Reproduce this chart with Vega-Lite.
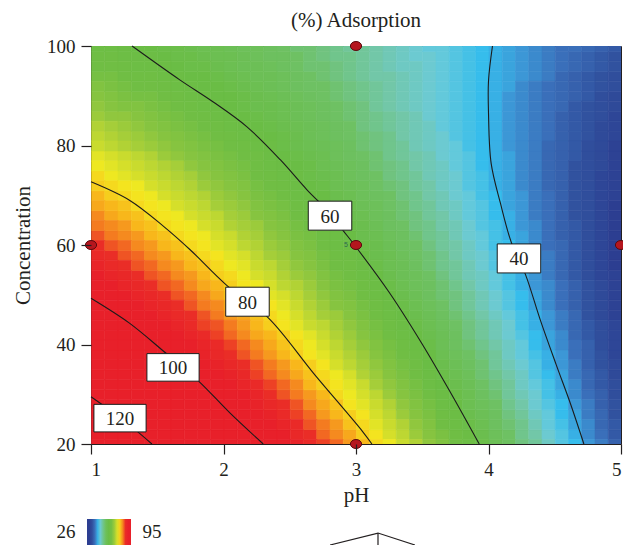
{
  "$schema": "https://vega.github.io/schema/vega-lite/v6.json",
  "autosize": {"type": "none"},
  "width": 530,
  "height": 398,
  "padding": {"left": 91, "top": 46, "right": 2, "bottom": 101},
  "background": "white",
  "title": {"text": "(%) Adsorption", "font": "Liberation Serif", "fontSize": 21, "fontWeight": "normal", "color": "#231F20", "offset": 6},
  "config": {
    "view": {"stroke": "#231F20", "strokeWidth": 1},
    "axis": {"labelFont": "Liberation Serif", "labelFontSize": 19, "labelColor": "#231F20", "titleFont": "Liberation Serif", "titleFontSize": 21, "titleFontWeight": "normal", "titleColor": "#231F20", "tickColor": "#231F20", "tickSize": 10, "tickWidth": 1.2, "domain": false, "grid": false}
  },
  "datasets": {
    "grid": [
      {"p":1.05,"c":22,"v":126},{"p":1.15,"c":22,"v":124},{"p":1.25,"c":22,"v":122},{"p":1.35,"c":22,"v":120},{"p":1.45,"c":22,"v":118},{"p":1.55,"c":22,"v":115},{"p":1.65,"c":22,"v":113},{"p":1.75,"c":22,"v":111},{"p":1.85,"c":22,"v":108},{"p":1.95,"c":22,"v":106},{"p":2.05,"c":22,"v":104},{"p":2.15,"c":22,"v":102},{"p":2.25,"c":22,"v":99},{"p":2.35,"c":22,"v":97},{"p":2.45,"c":22,"v":95},{"p":2.55,"c":22,"v":92},{"p":2.65,"c":22,"v":90},{"p":2.75,"c":22,"v":87},{"p":2.85,"c":22,"v":85},{"p":2.95,"c":22,"v":83},{"p":3.05,"c":22,"v":80},{"p":3.15,"c":22,"v":78},{"p":3.25,"c":22,"v":75},{"p":3.35,"c":22,"v":73},{"p":3.45,"c":22,"v":70},{"p":3.55,"c":22,"v":68},{"p":3.65,"c":22,"v":66},{"p":3.75,"c":22,"v":63},{"p":3.85,"c":22,"v":61},{"p":3.95,"c":22,"v":58},{"p":4.05,"c":22,"v":55},{"p":4.15,"c":22,"v":53},{"p":4.25,"c":22,"v":50},{"p":4.35,"c":22,"v":48},{"p":4.45,"c":22,"v":45},{"p":4.55,"c":22,"v":43},{"p":4.65,"c":22,"v":40},{"p":4.75,"c":22,"v":37},{"p":4.85,"c":22,"v":35},{"p":4.95,"c":22,"v":32},
      {"p":1.05,"c":26,"v":122},{"p":1.15,"c":26,"v":120},{"p":1.25,"c":26,"v":118},{"p":1.35,"c":26,"v":116},{"p":1.45,"c":26,"v":113},{"p":1.55,"c":26,"v":111},{"p":1.65,"c":26,"v":109},{"p":1.75,"c":26,"v":107},{"p":1.85,"c":26,"v":105},{"p":1.95,"c":26,"v":103},{"p":2.05,"c":26,"v":100},{"p":2.15,"c":26,"v":98},{"p":2.25,"c":26,"v":96},{"p":2.35,"c":26,"v":94},{"p":2.45,"c":26,"v":91},{"p":2.55,"c":26,"v":89},{"p":2.65,"c":26,"v":87},{"p":2.75,"c":26,"v":84},{"p":2.85,"c":26,"v":82},{"p":2.95,"c":26,"v":80},{"p":3.05,"c":26,"v":78},{"p":3.15,"c":26,"v":75},{"p":3.25,"c":26,"v":73},{"p":3.35,"c":26,"v":70},{"p":3.45,"c":26,"v":68},{"p":3.55,"c":26,"v":66},{"p":3.65,"c":26,"v":63},{"p":3.75,"c":26,"v":61},{"p":3.85,"c":26,"v":58},{"p":3.95,"c":26,"v":56},{"p":4.05,"c":26,"v":54},{"p":4.15,"c":26,"v":51},{"p":4.25,"c":26,"v":49},{"p":4.35,"c":26,"v":46},{"p":4.45,"c":26,"v":44},{"p":4.55,"c":26,"v":41},{"p":4.65,"c":26,"v":39},{"p":4.75,"c":26,"v":36},{"p":4.85,"c":26,"v":34},{"p":4.95,"c":26,"v":31},
      {"p":1.05,"c":30,"v":118},{"p":1.15,"c":30,"v":116},{"p":1.25,"c":30,"v":114},{"p":1.35,"c":30,"v":112},{"p":1.45,"c":30,"v":110},{"p":1.55,"c":30,"v":107},{"p":1.65,"c":30,"v":105},{"p":1.75,"c":30,"v":103},{"p":1.85,"c":30,"v":101},{"p":1.95,"c":30,"v":99},{"p":2.05,"c":30,"v":97},{"p":2.15,"c":30,"v":95},{"p":2.25,"c":30,"v":93},{"p":2.35,"c":30,"v":90},{"p":2.45,"c":30,"v":88},{"p":2.55,"c":30,"v":86},{"p":2.65,"c":30,"v":84},{"p":2.75,"c":30,"v":82},{"p":2.85,"c":30,"v":79},{"p":2.95,"c":30,"v":77},{"p":3.05,"c":30,"v":75},{"p":3.15,"c":30,"v":73},{"p":3.25,"c":30,"v":70},{"p":3.35,"c":30,"v":68},{"p":3.45,"c":30,"v":66},{"p":3.55,"c":30,"v":64},{"p":3.65,"c":30,"v":61},{"p":3.75,"c":30,"v":59},{"p":3.85,"c":30,"v":57},{"p":3.95,"c":30,"v":54},{"p":4.05,"c":30,"v":52},{"p":4.15,"c":30,"v":49},{"p":4.25,"c":30,"v":47},{"p":4.35,"c":30,"v":45},{"p":4.45,"c":30,"v":42},{"p":4.55,"c":30,"v":40},{"p":4.65,"c":30,"v":37},{"p":4.75,"c":30,"v":35},{"p":4.85,"c":30,"v":33},{"p":4.95,"c":30,"v":30},
      {"p":1.05,"c":34,"v":114},{"p":1.15,"c":34,"v":112},{"p":1.25,"c":34,"v":110},{"p":1.35,"c":34,"v":108},{"p":1.45,"c":34,"v":106},{"p":1.55,"c":34,"v":104},{"p":1.65,"c":34,"v":102},{"p":1.75,"c":34,"v":100},{"p":1.85,"c":34,"v":98},{"p":1.95,"c":34,"v":96},{"p":2.05,"c":34,"v":94},{"p":2.15,"c":34,"v":92},{"p":2.25,"c":34,"v":89},{"p":2.35,"c":34,"v":87},{"p":2.45,"c":34,"v":85},{"p":2.55,"c":34,"v":83},{"p":2.65,"c":34,"v":81},{"p":2.75,"c":34,"v":79},{"p":2.85,"c":34,"v":77},{"p":2.95,"c":34,"v":75},{"p":3.05,"c":34,"v":72},{"p":3.15,"c":34,"v":70},{"p":3.25,"c":34,"v":68},{"p":3.35,"c":34,"v":66},{"p":3.45,"c":34,"v":64},{"p":3.55,"c":34,"v":61},{"p":3.65,"c":34,"v":59},{"p":3.75,"c":34,"v":57},{"p":3.85,"c":34,"v":55},{"p":3.95,"c":34,"v":52},{"p":4.05,"c":34,"v":50},{"p":4.15,"c":34,"v":48},{"p":4.25,"c":34,"v":46},{"p":4.35,"c":34,"v":43},{"p":4.45,"c":34,"v":41},{"p":4.55,"c":34,"v":39},{"p":4.65,"c":34,"v":36},{"p":4.75,"c":34,"v":34},{"p":4.85,"c":34,"v":32},{"p":4.95,"c":34,"v":29},
      {"p":1.05,"c":38,"v":110},{"p":1.15,"c":38,"v":108},{"p":1.25,"c":38,"v":106},{"p":1.35,"c":38,"v":104},{"p":1.45,"c":38,"v":102},{"p":1.55,"c":38,"v":100},{"p":1.65,"c":38,"v":98},{"p":1.75,"c":38,"v":96},{"p":1.85,"c":38,"v":94},{"p":1.95,"c":38,"v":92},{"p":2.05,"c":38,"v":90},{"p":2.15,"c":38,"v":88},{"p":2.25,"c":38,"v":86},{"p":2.35,"c":38,"v":84},{"p":2.45,"c":38,"v":82},{"p":2.55,"c":38,"v":80},{"p":2.65,"c":38,"v":78},{"p":2.75,"c":38,"v":76},{"p":2.85,"c":38,"v":74},{"p":2.95,"c":38,"v":72},{"p":3.05,"c":38,"v":70},{"p":3.15,"c":38,"v":68},{"p":3.25,"c":38,"v":66},{"p":3.35,"c":38,"v":64},{"p":3.45,"c":38,"v":62},{"p":3.55,"c":38,"v":60},{"p":3.65,"c":38,"v":57},{"p":3.75,"c":38,"v":55},{"p":3.85,"c":38,"v":53},{"p":3.95,"c":38,"v":51},{"p":4.05,"c":38,"v":49},{"p":4.15,"c":38,"v":46},{"p":4.25,"c":38,"v":44},{"p":4.35,"c":38,"v":42},{"p":4.45,"c":38,"v":40},{"p":4.55,"c":38,"v":38},{"p":4.65,"c":38,"v":35},{"p":4.75,"c":38,"v":33},{"p":4.85,"c":38,"v":31},{"p":4.95,"c":38,"v":28},
      {"p":1.05,"c":42,"v":106},{"p":1.15,"c":42,"v":104},{"p":1.25,"c":42,"v":102},{"p":1.35,"c":42,"v":100},{"p":1.45,"c":42,"v":98},{"p":1.55,"c":42,"v":97},{"p":1.65,"c":42,"v":95},{"p":1.75,"c":42,"v":93},{"p":1.85,"c":42,"v":91},{"p":1.95,"c":42,"v":89},{"p":2.05,"c":42,"v":87},{"p":2.15,"c":42,"v":85},{"p":2.25,"c":42,"v":83},{"p":2.35,"c":42,"v":82},{"p":2.45,"c":42,"v":80},{"p":2.55,"c":42,"v":78},{"p":2.65,"c":42,"v":76},{"p":2.75,"c":42,"v":74},{"p":2.85,"c":42,"v":72},{"p":2.95,"c":42,"v":70},{"p":3.05,"c":42,"v":68},{"p":3.15,"c":42,"v":66},{"p":3.25,"c":42,"v":64},{"p":3.35,"c":42,"v":62},{"p":3.45,"c":42,"v":60},{"p":3.55,"c":42,"v":58},{"p":3.65,"c":42,"v":56},{"p":3.75,"c":42,"v":54},{"p":3.85,"c":42,"v":51},{"p":3.95,"c":42,"v":49},{"p":4.05,"c":42,"v":47},{"p":4.15,"c":42,"v":45},{"p":4.25,"c":42,"v":43},{"p":4.35,"c":42,"v":41},{"p":4.45,"c":42,"v":39},{"p":4.55,"c":42,"v":37},{"p":4.65,"c":42,"v":34},{"p":4.75,"c":42,"v":32},{"p":4.85,"c":42,"v":30},{"p":4.95,"c":42,"v":28},
      {"p":1.05,"c":46,"v":102},{"p":1.15,"c":46,"v":100},{"p":1.25,"c":46,"v":98},{"p":1.35,"c":46,"v":97},{"p":1.45,"c":46,"v":95},{"p":1.55,"c":46,"v":93},{"p":1.65,"c":46,"v":91},{"p":1.75,"c":46,"v":90},{"p":1.85,"c":46,"v":88},{"p":1.95,"c":46,"v":86},{"p":2.05,"c":46,"v":84},{"p":2.15,"c":46,"v":83},{"p":2.25,"c":46,"v":81},{"p":2.35,"c":46,"v":79},{"p":2.45,"c":46,"v":77},{"p":2.55,"c":46,"v":75},{"p":2.65,"c":46,"v":73},{"p":2.75,"c":46,"v":71},{"p":2.85,"c":46,"v":70},{"p":2.95,"c":46,"v":68},{"p":3.05,"c":46,"v":66},{"p":3.15,"c":46,"v":64},{"p":3.25,"c":46,"v":62},{"p":3.35,"c":46,"v":60},{"p":3.45,"c":46,"v":58},{"p":3.55,"c":46,"v":56},{"p":3.65,"c":46,"v":54},{"p":3.75,"c":46,"v":52},{"p":3.85,"c":46,"v":50},{"p":3.95,"c":46,"v":48},{"p":4.05,"c":46,"v":46},{"p":4.15,"c":46,"v":44},{"p":4.25,"c":46,"v":42},{"p":4.35,"c":46,"v":40},{"p":4.45,"c":46,"v":38},{"p":4.55,"c":46,"v":36},{"p":4.65,"c":46,"v":34},{"p":4.75,"c":46,"v":31},{"p":4.85,"c":46,"v":29},{"p":4.95,"c":46,"v":27},
      {"p":1.05,"c":50,"v":98},{"p":1.15,"c":50,"v":97},{"p":1.25,"c":50,"v":95},{"p":1.35,"c":50,"v":93},{"p":1.45,"c":50,"v":92},{"p":1.55,"c":50,"v":90},{"p":1.65,"c":50,"v":88},{"p":1.75,"c":50,"v":87},{"p":1.85,"c":50,"v":85},{"p":1.95,"c":50,"v":83},{"p":2.05,"c":50,"v":81},{"p":2.15,"c":50,"v":80},{"p":2.25,"c":50,"v":78},{"p":2.35,"c":50,"v":76},{"p":2.45,"c":50,"v":75},{"p":2.55,"c":50,"v":73},{"p":2.65,"c":50,"v":71},{"p":2.75,"c":50,"v":69},{"p":2.85,"c":50,"v":67},{"p":2.95,"c":50,"v":66},{"p":3.05,"c":50,"v":64},{"p":3.15,"c":50,"v":62},{"p":3.25,"c":50,"v":60},{"p":3.35,"c":50,"v":58},{"p":3.45,"c":50,"v":56},{"p":3.55,"c":50,"v":54},{"p":3.65,"c":50,"v":52},{"p":3.75,"c":50,"v":51},{"p":3.85,"c":50,"v":49},{"p":3.95,"c":50,"v":47},{"p":4.05,"c":50,"v":45},{"p":4.15,"c":50,"v":43},{"p":4.25,"c":50,"v":41},{"p":4.35,"c":50,"v":39},{"p":4.45,"c":50,"v":37},{"p":4.55,"c":50,"v":35},{"p":4.65,"c":50,"v":33},{"p":4.75,"c":50,"v":31},{"p":4.85,"c":50,"v":29},{"p":4.95,"c":50,"v":27},
      {"p":1.05,"c":54,"v":95},{"p":1.15,"c":54,"v":93},{"p":1.25,"c":54,"v":92},{"p":1.35,"c":54,"v":90},{"p":1.45,"c":54,"v":88},{"p":1.55,"c":54,"v":87},{"p":1.65,"c":54,"v":85},{"p":1.75,"c":54,"v":84},{"p":1.85,"c":54,"v":82},{"p":1.95,"c":54,"v":80},{"p":2.05,"c":54,"v":79},{"p":2.15,"c":54,"v":77},{"p":2.25,"c":54,"v":75},{"p":2.35,"c":54,"v":74},{"p":2.45,"c":54,"v":72},{"p":2.55,"c":54,"v":70},{"p":2.65,"c":54,"v":69},{"p":2.75,"c":54,"v":67},{"p":2.85,"c":54,"v":65},{"p":2.95,"c":54,"v":64},{"p":3.05,"c":54,"v":62},{"p":3.15,"c":54,"v":60},{"p":3.25,"c":54,"v":58},{"p":3.35,"c":54,"v":56},{"p":3.45,"c":54,"v":55},{"p":3.55,"c":54,"v":53},{"p":3.65,"c":54,"v":51},{"p":3.75,"c":54,"v":49},{"p":3.85,"c":54,"v":47},{"p":3.95,"c":54,"v":46},{"p":4.05,"c":54,"v":44},{"p":4.15,"c":54,"v":42},{"p":4.25,"c":54,"v":40},{"p":4.35,"c":54,"v":38},{"p":4.45,"c":54,"v":36},{"p":4.55,"c":54,"v":34},{"p":4.65,"c":54,"v":32},{"p":4.75,"c":54,"v":30},{"p":4.85,"c":54,"v":28},{"p":4.95,"c":54,"v":27},
      {"p":1.05,"c":58,"v":91},{"p":1.15,"c":58,"v":90},{"p":1.25,"c":58,"v":88},{"p":1.35,"c":58,"v":87},{"p":1.45,"c":58,"v":85},{"p":1.55,"c":58,"v":84},{"p":1.65,"c":58,"v":82},{"p":1.75,"c":58,"v":81},{"p":1.85,"c":58,"v":79},{"p":1.95,"c":58,"v":78},{"p":2.05,"c":58,"v":76},{"p":2.15,"c":58,"v":75},{"p":2.25,"c":58,"v":73},{"p":2.35,"c":58,"v":71},{"p":2.45,"c":58,"v":70},{"p":2.55,"c":58,"v":68},{"p":2.65,"c":58,"v":67},{"p":2.75,"c":58,"v":65},{"p":2.85,"c":58,"v":63},{"p":2.95,"c":58,"v":62},{"p":3.05,"c":58,"v":60},{"p":3.15,"c":58,"v":58},{"p":3.25,"c":58,"v":57},{"p":3.35,"c":58,"v":55},{"p":3.45,"c":58,"v":53},{"p":3.55,"c":58,"v":52},{"p":3.65,"c":58,"v":50},{"p":3.75,"c":58,"v":48},{"p":3.85,"c":58,"v":46},{"p":3.95,"c":58,"v":45},{"p":4.05,"c":58,"v":43},{"p":4.15,"c":58,"v":41},{"p":4.25,"c":58,"v":39},{"p":4.35,"c":58,"v":37},{"p":4.45,"c":58,"v":36},{"p":4.55,"c":58,"v":34},{"p":4.65,"c":58,"v":32},{"p":4.75,"c":58,"v":30},{"p":4.85,"c":58,"v":28},{"p":4.95,"c":58,"v":26},
      {"p":1.05,"c":62,"v":88},{"p":1.15,"c":62,"v":86},{"p":1.25,"c":62,"v":85},{"p":1.35,"c":62,"v":84},{"p":1.45,"c":62,"v":82},{"p":1.55,"c":62,"v":81},{"p":1.65,"c":62,"v":79},{"p":1.75,"c":62,"v":78},{"p":1.85,"c":62,"v":77},{"p":1.95,"c":62,"v":75},{"p":2.05,"c":62,"v":74},{"p":2.15,"c":62,"v":72},{"p":2.25,"c":62,"v":71},{"p":2.35,"c":62,"v":69},{"p":2.45,"c":62,"v":68},{"p":2.55,"c":62,"v":66},{"p":2.65,"c":62,"v":65},{"p":2.75,"c":62,"v":63},{"p":2.85,"c":62,"v":62},{"p":2.95,"c":62,"v":60},{"p":3.05,"c":62,"v":58},{"p":3.15,"c":62,"v":57},{"p":3.25,"c":62,"v":55},{"p":3.35,"c":62,"v":54},{"p":3.45,"c":62,"v":52},{"p":3.55,"c":62,"v":50},{"p":3.65,"c":62,"v":49},{"p":3.75,"c":62,"v":47},{"p":3.85,"c":62,"v":45},{"p":3.95,"c":62,"v":44},{"p":4.05,"c":62,"v":42},{"p":4.15,"c":62,"v":40},{"p":4.25,"c":62,"v":39},{"p":4.35,"c":62,"v":37},{"p":4.45,"c":62,"v":35},{"p":4.55,"c":62,"v":33},{"p":4.65,"c":62,"v":32},{"p":4.75,"c":62,"v":30},{"p":4.85,"c":62,"v":28},{"p":4.95,"c":62,"v":26},
      {"p":1.05,"c":66,"v":85},{"p":1.15,"c":66,"v":83},{"p":1.25,"c":66,"v":82},{"p":1.35,"c":66,"v":81},{"p":1.45,"c":66,"v":79},{"p":1.55,"c":66,"v":78},{"p":1.65,"c":66,"v":77},{"p":1.75,"c":66,"v":75},{"p":1.85,"c":66,"v":74},{"p":1.95,"c":66,"v":73},{"p":2.05,"c":66,"v":71},{"p":2.15,"c":66,"v":70},{"p":2.25,"c":66,"v":68},{"p":2.35,"c":66,"v":67},{"p":2.45,"c":66,"v":66},{"p":2.55,"c":66,"v":64},{"p":2.65,"c":66,"v":63},{"p":2.75,"c":66,"v":61},{"p":2.85,"c":66,"v":60},{"p":2.95,"c":66,"v":58},{"p":3.05,"c":66,"v":57},{"p":3.15,"c":66,"v":55},{"p":3.25,"c":66,"v":54},{"p":3.35,"c":66,"v":52},{"p":3.45,"c":66,"v":51},{"p":3.55,"c":66,"v":49},{"p":3.65,"c":66,"v":48},{"p":3.75,"c":66,"v":46},{"p":3.85,"c":66,"v":44},{"p":3.95,"c":66,"v":43},{"p":4.05,"c":66,"v":41},{"p":4.15,"c":66,"v":40},{"p":4.25,"c":66,"v":38},{"p":4.35,"c":66,"v":36},{"p":4.45,"c":66,"v":35},{"p":4.55,"c":66,"v":33},{"p":4.65,"c":66,"v":31},{"p":4.75,"c":66,"v":30},{"p":4.85,"c":66,"v":28},{"p":4.95,"c":66,"v":26},
      {"p":1.05,"c":70,"v":82},{"p":1.15,"c":70,"v":80},{"p":1.25,"c":70,"v":79},{"p":1.35,"c":70,"v":78},{"p":1.45,"c":70,"v":77},{"p":1.55,"c":70,"v":75},{"p":1.65,"c":70,"v":74},{"p":1.75,"c":70,"v":73},{"p":1.85,"c":70,"v":72},{"p":1.95,"c":70,"v":70},{"p":2.05,"c":70,"v":69},{"p":2.15,"c":70,"v":68},{"p":2.25,"c":70,"v":66},{"p":2.35,"c":70,"v":65},{"p":2.45,"c":70,"v":64},{"p":2.55,"c":70,"v":62},{"p":2.65,"c":70,"v":61},{"p":2.75,"c":70,"v":60},{"p":2.85,"c":70,"v":58},{"p":2.95,"c":70,"v":57},{"p":3.05,"c":70,"v":55},{"p":3.15,"c":70,"v":54},{"p":3.25,"c":70,"v":53},{"p":3.35,"c":70,"v":51},{"p":3.45,"c":70,"v":50},{"p":3.55,"c":70,"v":48},{"p":3.65,"c":70,"v":47},{"p":3.75,"c":70,"v":45},{"p":3.85,"c":70,"v":44},{"p":3.95,"c":70,"v":42},{"p":4.05,"c":70,"v":41},{"p":4.15,"c":70,"v":39},{"p":4.25,"c":70,"v":38},{"p":4.35,"c":70,"v":36},{"p":4.45,"c":70,"v":35},{"p":4.55,"c":70,"v":33},{"p":4.65,"c":70,"v":31},{"p":4.75,"c":70,"v":30},{"p":4.85,"c":70,"v":28},{"p":4.95,"c":70,"v":27},
      {"p":1.05,"c":74,"v":79},{"p":1.15,"c":74,"v":77},{"p":1.25,"c":74,"v":76},{"p":1.35,"c":74,"v":75},{"p":1.45,"c":74,"v":74},{"p":1.55,"c":74,"v":73},{"p":1.65,"c":74,"v":72},{"p":1.75,"c":74,"v":71},{"p":1.85,"c":74,"v":69},{"p":1.95,"c":74,"v":68},{"p":2.05,"c":74,"v":67},{"p":2.15,"c":74,"v":66},{"p":2.25,"c":74,"v":64},{"p":2.35,"c":74,"v":63},{"p":2.45,"c":74,"v":62},{"p":2.55,"c":74,"v":61},{"p":2.65,"c":74,"v":59},{"p":2.75,"c":74,"v":58},{"p":2.85,"c":74,"v":57},{"p":2.95,"c":74,"v":55},{"p":3.05,"c":74,"v":54},{"p":3.15,"c":74,"v":53},{"p":3.25,"c":74,"v":51},{"p":3.35,"c":74,"v":50},{"p":3.45,"c":74,"v":49},{"p":3.55,"c":74,"v":47},{"p":3.65,"c":74,"v":46},{"p":3.75,"c":74,"v":45},{"p":3.85,"c":74,"v":43},{"p":3.95,"c":74,"v":42},{"p":4.05,"c":74,"v":40},{"p":4.15,"c":74,"v":39},{"p":4.25,"c":74,"v":37},{"p":4.35,"c":74,"v":36},{"p":4.45,"c":74,"v":34},{"p":4.55,"c":74,"v":33},{"p":4.65,"c":74,"v":31},{"p":4.75,"c":74,"v":30},{"p":4.85,"c":74,"v":28},{"p":4.95,"c":74,"v":27},
      {"p":1.05,"c":78,"v":76},{"p":1.15,"c":78,"v":75},{"p":1.25,"c":78,"v":74},{"p":1.35,"c":78,"v":73},{"p":1.45,"c":78,"v":72},{"p":1.55,"c":78,"v":70},{"p":1.65,"c":78,"v":69},{"p":1.75,"c":78,"v":68},{"p":1.85,"c":78,"v":67},{"p":1.95,"c":78,"v":66},{"p":2.05,"c":78,"v":65},{"p":2.15,"c":78,"v":64},{"p":2.25,"c":78,"v":63},{"p":2.35,"c":78,"v":61},{"p":2.45,"c":78,"v":60},{"p":2.55,"c":78,"v":59},{"p":2.65,"c":78,"v":58},{"p":2.75,"c":78,"v":57},{"p":2.85,"c":78,"v":55},{"p":2.95,"c":78,"v":54},{"p":3.05,"c":78,"v":53},{"p":3.15,"c":78,"v":52},{"p":3.25,"c":78,"v":50},{"p":3.35,"c":78,"v":49},{"p":3.45,"c":78,"v":48},{"p":3.55,"c":78,"v":47},{"p":3.65,"c":78,"v":45},{"p":3.75,"c":78,"v":44},{"p":3.85,"c":78,"v":43},{"p":3.95,"c":78,"v":41},{"p":4.05,"c":78,"v":40},{"p":4.15,"c":78,"v":39},{"p":4.25,"c":78,"v":37},{"p":4.35,"c":78,"v":36},{"p":4.45,"c":78,"v":34},{"p":4.55,"c":78,"v":33},{"p":4.65,"c":78,"v":32},{"p":4.75,"c":78,"v":30},{"p":4.85,"c":78,"v":29},{"p":4.95,"c":78,"v":27},
      {"p":1.05,"c":82,"v":73},{"p":1.15,"c":82,"v":72},{"p":1.25,"c":82,"v":71},{"p":1.35,"c":82,"v":70},{"p":1.45,"c":82,"v":69},{"p":1.55,"c":82,"v":68},{"p":1.65,"c":82,"v":67},{"p":1.75,"c":82,"v":66},{"p":1.85,"c":82,"v":65},{"p":1.95,"c":82,"v":64},{"p":2.05,"c":82,"v":63},{"p":2.15,"c":82,"v":62},{"p":2.25,"c":82,"v":61},{"p":2.35,"c":82,"v":60},{"p":2.45,"c":82,"v":59},{"p":2.55,"c":82,"v":58},{"p":2.65,"c":82,"v":56},{"p":2.75,"c":82,"v":55},{"p":2.85,"c":82,"v":54},{"p":2.95,"c":82,"v":53},{"p":3.05,"c":82,"v":52},{"p":3.15,"c":82,"v":51},{"p":3.25,"c":82,"v":50},{"p":3.35,"c":82,"v":48},{"p":3.45,"c":82,"v":47},{"p":3.55,"c":82,"v":46},{"p":3.65,"c":82,"v":45},{"p":3.75,"c":82,"v":43},{"p":3.85,"c":82,"v":42},{"p":3.95,"c":82,"v":41},{"p":4.05,"c":82,"v":40},{"p":4.15,"c":82,"v":38},{"p":4.25,"c":82,"v":37},{"p":4.35,"c":82,"v":36},{"p":4.45,"c":82,"v":35},{"p":4.55,"c":82,"v":33},{"p":4.65,"c":82,"v":32},{"p":4.75,"c":82,"v":31},{"p":4.85,"c":82,"v":29},{"p":4.95,"c":82,"v":28},
      {"p":1.05,"c":86,"v":70},{"p":1.15,"c":86,"v":69},{"p":1.25,"c":86,"v":69},{"p":1.35,"c":86,"v":68},{"p":1.45,"c":86,"v":67},{"p":1.55,"c":86,"v":66},{"p":1.65,"c":86,"v":65},{"p":1.75,"c":86,"v":64},{"p":1.85,"c":86,"v":63},{"p":1.95,"c":86,"v":62},{"p":2.05,"c":86,"v":61},{"p":2.15,"c":86,"v":60},{"p":2.25,"c":86,"v":59},{"p":2.35,"c":86,"v":58},{"p":2.45,"c":86,"v":57},{"p":2.55,"c":86,"v":56},{"p":2.65,"c":86,"v":55},{"p":2.75,"c":86,"v":54},{"p":2.85,"c":86,"v":53},{"p":2.95,"c":86,"v":52},{"p":3.05,"c":86,"v":51},{"p":3.15,"c":86,"v":50},{"p":3.25,"c":86,"v":49},{"p":3.35,"c":86,"v":48},{"p":3.45,"c":86,"v":47},{"p":3.55,"c":86,"v":45},{"p":3.65,"c":86,"v":44},{"p":3.75,"c":86,"v":43},{"p":3.85,"c":86,"v":42},{"p":3.95,"c":86,"v":41},{"p":4.05,"c":86,"v":40},{"p":4.15,"c":86,"v":38},{"p":4.25,"c":86,"v":37},{"p":4.35,"c":86,"v":36},{"p":4.45,"c":86,"v":35},{"p":4.55,"c":86,"v":33},{"p":4.65,"c":86,"v":32},{"p":4.75,"c":86,"v":31},{"p":4.85,"c":86,"v":30},{"p":4.95,"c":86,"v":28},
      {"p":1.05,"c":90,"v":68},{"p":1.15,"c":90,"v":67},{"p":1.25,"c":90,"v":66},{"p":1.35,"c":90,"v":65},{"p":1.45,"c":90,"v":65},{"p":1.55,"c":90,"v":64},{"p":1.65,"c":90,"v":63},{"p":1.75,"c":90,"v":62},{"p":1.85,"c":90,"v":61},{"p":1.95,"c":90,"v":60},{"p":2.05,"c":90,"v":60},{"p":2.15,"c":90,"v":59},{"p":2.25,"c":90,"v":58},{"p":2.35,"c":90,"v":57},{"p":2.45,"c":90,"v":56},{"p":2.55,"c":90,"v":55},{"p":2.65,"c":90,"v":54},{"p":2.75,"c":90,"v":53},{"p":2.85,"c":90,"v":52},{"p":2.95,"c":90,"v":51},{"p":3.05,"c":90,"v":50},{"p":3.15,"c":90,"v":49},{"p":3.25,"c":90,"v":48},{"p":3.35,"c":90,"v":47},{"p":3.45,"c":90,"v":46},{"p":3.55,"c":90,"v":45},{"p":3.65,"c":90,"v":44},{"p":3.75,"c":90,"v":43},{"p":3.85,"c":90,"v":42},{"p":3.95,"c":90,"v":41},{"p":4.05,"c":90,"v":40},{"p":4.15,"c":90,"v":38},{"p":4.25,"c":90,"v":37},{"p":4.35,"c":90,"v":36},{"p":4.45,"c":90,"v":35},{"p":4.55,"c":90,"v":34},{"p":4.65,"c":90,"v":33},{"p":4.75,"c":90,"v":32},{"p":4.85,"c":90,"v":30},{"p":4.95,"c":90,"v":29},
      {"p":1.05,"c":94,"v":65},{"p":1.15,"c":94,"v":65},{"p":1.25,"c":94,"v":64},{"p":1.35,"c":94,"v":63},{"p":1.45,"c":94,"v":63},{"p":1.55,"c":94,"v":62},{"p":1.65,"c":94,"v":61},{"p":1.75,"c":94,"v":60},{"p":1.85,"c":94,"v":60},{"p":1.95,"c":94,"v":59},{"p":2.05,"c":94,"v":58},{"p":2.15,"c":94,"v":57},{"p":2.25,"c":94,"v":56},{"p":2.35,"c":94,"v":56},{"p":2.45,"c":94,"v":55},{"p":2.55,"c":94,"v":54},{"p":2.65,"c":94,"v":53},{"p":2.75,"c":94,"v":52},{"p":2.85,"c":94,"v":51},{"p":2.95,"c":94,"v":50},{"p":3.05,"c":94,"v":49},{"p":3.15,"c":94,"v":48},{"p":3.25,"c":94,"v":48},{"p":3.35,"c":94,"v":47},{"p":3.45,"c":94,"v":46},{"p":3.55,"c":94,"v":45},{"p":3.65,"c":94,"v":44},{"p":3.75,"c":94,"v":43},{"p":3.85,"c":94,"v":42},{"p":3.95,"c":94,"v":41},{"p":4.05,"c":94,"v":40},{"p":4.15,"c":94,"v":39},{"p":4.25,"c":94,"v":38},{"p":4.35,"c":94,"v":37},{"p":4.45,"c":94,"v":36},{"p":4.55,"c":94,"v":34},{"p":4.65,"c":94,"v":33},{"p":4.75,"c":94,"v":32},{"p":4.85,"c":94,"v":31},{"p":4.95,"c":94,"v":30},
      {"p":1.05,"c":98,"v":63},{"p":1.15,"c":98,"v":63},{"p":1.25,"c":98,"v":62},{"p":1.35,"c":98,"v":61},{"p":1.45,"c":98,"v":61},{"p":1.55,"c":98,"v":60},{"p":1.65,"c":98,"v":59},{"p":1.75,"c":98,"v":59},{"p":1.85,"c":98,"v":58},{"p":1.95,"c":98,"v":57},{"p":2.05,"c":98,"v":57},{"p":2.15,"c":98,"v":56},{"p":2.25,"c":98,"v":55},{"p":2.35,"c":98,"v":54},{"p":2.45,"c":98,"v":54},{"p":2.55,"c":98,"v":53},{"p":2.65,"c":98,"v":52},{"p":2.75,"c":98,"v":51},{"p":2.85,"c":98,"v":50},{"p":2.95,"c":98,"v":50},{"p":3.05,"c":98,"v":49},{"p":3.15,"c":98,"v":48},{"p":3.25,"c":98,"v":47},{"p":3.35,"c":98,"v":46},{"p":3.45,"c":98,"v":45},{"p":3.55,"c":98,"v":45},{"p":3.65,"c":98,"v":44},{"p":3.75,"c":98,"v":43},{"p":3.85,"c":98,"v":42},{"p":3.95,"c":98,"v":41},{"p":4.05,"c":98,"v":40},{"p":4.15,"c":98,"v":39},{"p":4.25,"c":98,"v":38},{"p":4.35,"c":98,"v":37},{"p":4.45,"c":98,"v":36},{"p":4.55,"c":98,"v":35},{"p":4.65,"c":98,"v":34},{"p":4.75,"c":98,"v":33},{"p":4.85,"c":98,"v":32},{"p":4.95,"c":98,"v":31},
      {"p":1.05,"c":20,"v":129},{"p":1.15,"c":20,"v":126},{"p":1.25,"c":20,"v":124},{"p":1.35,"c":20,"v":122},{"p":1.45,"c":20,"v":120},{"p":1.55,"c":20,"v":117},{"p":1.65,"c":20,"v":115},{"p":1.75,"c":20,"v":113},{"p":1.85,"c":20,"v":110},{"p":1.95,"c":20,"v":108},{"p":2.05,"c":20,"v":106},{"p":2.15,"c":20,"v":103},{"p":2.25,"c":20,"v":101},{"p":2.35,"c":20,"v":99},{"p":2.45,"c":20,"v":96},{"p":2.55,"c":20,"v":94},{"p":2.65,"c":20,"v":91},{"p":2.75,"c":20,"v":89},{"p":2.85,"c":20,"v":87},{"p":2.95,"c":20,"v":84},{"p":3.05,"c":20,"v":82},{"p":3.15,"c":20,"v":79},{"p":3.25,"c":20,"v":77},{"p":3.35,"c":20,"v":74},{"p":3.45,"c":20,"v":72},{"p":3.55,"c":20,"v":69},{"p":3.65,"c":20,"v":67},{"p":3.75,"c":20,"v":64},{"p":3.85,"c":20,"v":62},{"p":3.95,"c":20,"v":59},{"p":4.05,"c":20,"v":56},{"p":4.15,"c":20,"v":54},{"p":4.25,"c":20,"v":51},{"p":4.35,"c":20,"v":49},{"p":4.45,"c":20,"v":46},{"p":4.55,"c":20,"v":43},{"p":4.65,"c":20,"v":41},{"p":4.75,"c":20,"v":38},{"p":4.85,"c":20,"v":36},{"p":4.95,"c":20,"v":33},
      {"p":1.05,"c":24,"v":124},{"p":1.15,"c":24,"v":122},{"p":1.25,"c":24,"v":120},{"p":1.35,"c":24,"v":118},{"p":1.45,"c":24,"v":116},{"p":1.55,"c":24,"v":113},{"p":1.65,"c":24,"v":111},{"p":1.75,"c":24,"v":109},{"p":1.85,"c":24,"v":107},{"p":1.95,"c":24,"v":104},{"p":2.05,"c":24,"v":102},{"p":2.15,"c":24,"v":100},{"p":2.25,"c":24,"v":98},{"p":2.35,"c":24,"v":95},{"p":2.45,"c":24,"v":93},{"p":2.55,"c":24,"v":91},{"p":2.65,"c":24,"v":88},{"p":2.75,"c":24,"v":86},{"p":2.85,"c":24,"v":84},{"p":2.95,"c":24,"v":81},{"p":3.05,"c":24,"v":79},{"p":3.15,"c":24,"v":76},{"p":3.25,"c":24,"v":74},{"p":3.35,"c":24,"v":72},{"p":3.45,"c":24,"v":69},{"p":3.55,"c":24,"v":67},{"p":3.65,"c":24,"v":64},{"p":3.75,"c":24,"v":62},{"p":3.85,"c":24,"v":59},{"p":3.95,"c":24,"v":57},{"p":4.05,"c":24,"v":54},{"p":4.15,"c":24,"v":52},{"p":4.25,"c":24,"v":50},{"p":4.35,"c":24,"v":47},{"p":4.45,"c":24,"v":44},{"p":4.55,"c":24,"v":42},{"p":4.65,"c":24,"v":39},{"p":4.75,"c":24,"v":37},{"p":4.85,"c":24,"v":34},{"p":4.95,"c":24,"v":32},
      {"p":1.05,"c":28,"v":120},{"p":1.15,"c":28,"v":118},{"p":1.25,"c":28,"v":116},{"p":1.35,"c":28,"v":114},{"p":1.45,"c":28,"v":112},{"p":1.55,"c":28,"v":109},{"p":1.65,"c":28,"v":107},{"p":1.75,"c":28,"v":105},{"p":1.85,"c":28,"v":103},{"p":1.95,"c":28,"v":101},{"p":2.05,"c":28,"v":99},{"p":2.15,"c":28,"v":96},{"p":2.25,"c":28,"v":94},{"p":2.35,"c":28,"v":92},{"p":2.45,"c":28,"v":90},{"p":2.55,"c":28,"v":88},{"p":2.65,"c":28,"v":85},{"p":2.75,"c":28,"v":83},{"p":2.85,"c":28,"v":81},{"p":2.95,"c":28,"v":78},{"p":3.05,"c":28,"v":76},{"p":3.15,"c":28,"v":74},{"p":3.25,"c":28,"v":72},{"p":3.35,"c":28,"v":69},{"p":3.45,"c":28,"v":67},{"p":3.55,"c":28,"v":65},{"p":3.65,"c":28,"v":62},{"p":3.75,"c":28,"v":60},{"p":3.85,"c":28,"v":57},{"p":3.95,"c":28,"v":55},{"p":4.05,"c":28,"v":53},{"p":4.15,"c":28,"v":50},{"p":4.25,"c":28,"v":48},{"p":4.35,"c":28,"v":45},{"p":4.45,"c":28,"v":43},{"p":4.55,"c":28,"v":41},{"p":4.65,"c":28,"v":38},{"p":4.75,"c":28,"v":36},{"p":4.85,"c":28,"v":33},{"p":4.95,"c":28,"v":31},
      {"p":1.05,"c":32,"v":116},{"p":1.15,"c":32,"v":114},{"p":1.25,"c":32,"v":112},{"p":1.35,"c":32,"v":110},{"p":1.45,"c":32,"v":108},{"p":1.55,"c":32,"v":106},{"p":1.65,"c":32,"v":104},{"p":1.75,"c":32,"v":101},{"p":1.85,"c":32,"v":99},{"p":1.95,"c":32,"v":97},{"p":2.05,"c":32,"v":95},{"p":2.15,"c":32,"v":93},{"p":2.25,"c":32,"v":91},{"p":2.35,"c":32,"v":89},{"p":2.45,"c":32,"v":87},{"p":2.55,"c":32,"v":85},{"p":2.65,"c":32,"v":82},{"p":2.75,"c":32,"v":80},{"p":2.85,"c":32,"v":78},{"p":2.95,"c":32,"v":76},{"p":3.05,"c":32,"v":74},{"p":3.15,"c":32,"v":71},{"p":3.25,"c":32,"v":69},{"p":3.35,"c":32,"v":67},{"p":3.45,"c":32,"v":65},{"p":3.55,"c":32,"v":62},{"p":3.65,"c":32,"v":60},{"p":3.75,"c":32,"v":58},{"p":3.85,"c":32,"v":56},{"p":3.95,"c":32,"v":53},{"p":4.05,"c":32,"v":51},{"p":4.15,"c":32,"v":49},{"p":4.25,"c":32,"v":46},{"p":4.35,"c":32,"v":44},{"p":4.45,"c":32,"v":42},{"p":4.55,"c":32,"v":39},{"p":4.65,"c":32,"v":37},{"p":4.75,"c":32,"v":34},{"p":4.85,"c":32,"v":32},{"p":4.95,"c":32,"v":30},
      {"p":1.05,"c":36,"v":112},{"p":1.15,"c":36,"v":110},{"p":1.25,"c":36,"v":108},{"p":1.35,"c":36,"v":106},{"p":1.45,"c":36,"v":104},{"p":1.55,"c":36,"v":102},{"p":1.65,"c":36,"v":100},{"p":1.75,"c":36,"v":98},{"p":1.85,"c":36,"v":96},{"p":1.95,"c":36,"v":94},{"p":2.05,"c":36,"v":92},{"p":2.15,"c":36,"v":90},{"p":2.25,"c":36,"v":88},{"p":2.35,"c":36,"v":86},{"p":2.45,"c":36,"v":84},{"p":2.55,"c":36,"v":82},{"p":2.65,"c":36,"v":80},{"p":2.75,"c":36,"v":78},{"p":2.85,"c":36,"v":75},{"p":2.95,"c":36,"v":73},{"p":3.05,"c":36,"v":71},{"p":3.15,"c":36,"v":69},{"p":3.25,"c":36,"v":67},{"p":3.35,"c":36,"v":65},{"p":3.45,"c":36,"v":63},{"p":3.55,"c":36,"v":60},{"p":3.65,"c":36,"v":58},{"p":3.75,"c":36,"v":56},{"p":3.85,"c":36,"v":54},{"p":3.95,"c":36,"v":52},{"p":4.05,"c":36,"v":49},{"p":4.15,"c":36,"v":47},{"p":4.25,"c":36,"v":45},{"p":4.35,"c":36,"v":43},{"p":4.45,"c":36,"v":40},{"p":4.55,"c":36,"v":38},{"p":4.65,"c":36,"v":36},{"p":4.75,"c":36,"v":33},{"p":4.85,"c":36,"v":31},{"p":4.95,"c":36,"v":29},
      {"p":1.05,"c":40,"v":108},{"p":1.15,"c":40,"v":106},{"p":1.25,"c":40,"v":104},{"p":1.35,"c":40,"v":102},{"p":1.45,"c":40,"v":100},{"p":1.55,"c":40,"v":98},{"p":1.65,"c":40,"v":96},{"p":1.75,"c":40,"v":95},{"p":1.85,"c":40,"v":93},{"p":1.95,"c":40,"v":91},{"p":2.05,"c":40,"v":89},{"p":2.15,"c":40,"v":87},{"p":2.25,"c":40,"v":85},{"p":2.35,"c":40,"v":83},{"p":2.45,"c":40,"v":81},{"p":2.55,"c":40,"v":79},{"p":2.65,"c":40,"v":77},{"p":2.75,"c":40,"v":75},{"p":2.85,"c":40,"v":73},{"p":2.95,"c":40,"v":71},{"p":3.05,"c":40,"v":69},{"p":3.15,"c":40,"v":67},{"p":3.25,"c":40,"v":65},{"p":3.35,"c":40,"v":63},{"p":3.45,"c":40,"v":61},{"p":3.55,"c":40,"v":59},{"p":3.65,"c":40,"v":56},{"p":3.75,"c":40,"v":54},{"p":3.85,"c":40,"v":52},{"p":3.95,"c":40,"v":50},{"p":4.05,"c":40,"v":48},{"p":4.15,"c":40,"v":46},{"p":4.25,"c":40,"v":44},{"p":4.35,"c":40,"v":41},{"p":4.45,"c":40,"v":39},{"p":4.55,"c":40,"v":37},{"p":4.65,"c":40,"v":35},{"p":4.75,"c":40,"v":33},{"p":4.85,"c":40,"v":30},{"p":4.95,"c":40,"v":28},
      {"p":1.05,"c":44,"v":104},{"p":1.15,"c":44,"v":102},{"p":1.25,"c":44,"v":100},{"p":1.35,"c":44,"v":98},{"p":1.45,"c":44,"v":97},{"p":1.55,"c":44,"v":95},{"p":1.65,"c":44,"v":93},{"p":1.75,"c":44,"v":91},{"p":1.85,"c":44,"v":89},{"p":1.95,"c":44,"v":88},{"p":2.05,"c":44,"v":86},{"p":2.15,"c":44,"v":84},{"p":2.25,"c":44,"v":82},{"p":2.35,"c":44,"v":80},{"p":2.45,"c":44,"v":78},{"p":2.55,"c":44,"v":76},{"p":2.65,"c":44,"v":74},{"p":2.75,"c":44,"v":73},{"p":2.85,"c":44,"v":71},{"p":2.95,"c":44,"v":69},{"p":3.05,"c":44,"v":67},{"p":3.15,"c":44,"v":65},{"p":3.25,"c":44,"v":63},{"p":3.35,"c":44,"v":61},{"p":3.45,"c":44,"v":59},{"p":3.55,"c":44,"v":57},{"p":3.65,"c":44,"v":55},{"p":3.75,"c":44,"v":53},{"p":3.85,"c":44,"v":51},{"p":3.95,"c":44,"v":49},{"p":4.05,"c":44,"v":47},{"p":4.15,"c":44,"v":45},{"p":4.25,"c":44,"v":42},{"p":4.35,"c":44,"v":40},{"p":4.45,"c":44,"v":38},{"p":4.55,"c":44,"v":36},{"p":4.65,"c":44,"v":34},{"p":4.75,"c":44,"v":32},{"p":4.85,"c":44,"v":30},{"p":4.95,"c":44,"v":28},
      {"p":1.05,"c":48,"v":100},{"p":1.15,"c":48,"v":98},{"p":1.25,"c":48,"v":97},{"p":1.35,"c":48,"v":95},{"p":1.45,"c":48,"v":93},{"p":1.55,"c":48,"v":92},{"p":1.65,"c":48,"v":90},{"p":1.75,"c":48,"v":88},{"p":1.85,"c":48,"v":86},{"p":1.95,"c":48,"v":85},{"p":2.05,"c":48,"v":83},{"p":2.15,"c":48,"v":81},{"p":2.25,"c":48,"v":79},{"p":2.35,"c":48,"v":78},{"p":2.45,"c":48,"v":76},{"p":2.55,"c":48,"v":74},{"p":2.65,"c":48,"v":72},{"p":2.75,"c":48,"v":70},{"p":2.85,"c":48,"v":68},{"p":2.95,"c":48,"v":67},{"p":3.05,"c":48,"v":65},{"p":3.15,"c":48,"v":63},{"p":3.25,"c":48,"v":61},{"p":3.35,"c":48,"v":59},{"p":3.45,"c":48,"v":57},{"p":3.55,"c":48,"v":55},{"p":3.65,"c":48,"v":53},{"p":3.75,"c":48,"v":51},{"p":3.85,"c":48,"v":49},{"p":3.95,"c":48,"v":47},{"p":4.05,"c":48,"v":45},{"p":4.15,"c":48,"v":43},{"p":4.25,"c":48,"v":41},{"p":4.35,"c":48,"v":39},{"p":4.45,"c":48,"v":37},{"p":4.55,"c":48,"v":35},{"p":4.65,"c":48,"v":33},{"p":4.75,"c":48,"v":31},{"p":4.85,"c":48,"v":29},{"p":4.95,"c":48,"v":27},
      {"p":1.05,"c":52,"v":96},{"p":1.15,"c":52,"v":95},{"p":1.25,"c":52,"v":93},{"p":1.35,"c":52,"v":92},{"p":1.45,"c":52,"v":90},{"p":1.55,"c":52,"v":88},{"p":1.65,"c":52,"v":87},{"p":1.75,"c":52,"v":85},{"p":1.85,"c":52,"v":83},{"p":1.95,"c":52,"v":82},{"p":2.05,"c":52,"v":80},{"p":2.15,"c":52,"v":78},{"p":2.25,"c":52,"v":77},{"p":2.35,"c":52,"v":75},{"p":2.45,"c":52,"v":73},{"p":2.55,"c":52,"v":72},{"p":2.65,"c":52,"v":70},{"p":2.75,"c":52,"v":68},{"p":2.85,"c":52,"v":66},{"p":2.95,"c":52,"v":65},{"p":3.05,"c":52,"v":63},{"p":3.15,"c":52,"v":61},{"p":3.25,"c":52,"v":59},{"p":3.35,"c":52,"v":57},{"p":3.45,"c":52,"v":55},{"p":3.55,"c":52,"v":54},{"p":3.65,"c":52,"v":52},{"p":3.75,"c":52,"v":50},{"p":3.85,"c":52,"v":48},{"p":3.95,"c":52,"v":46},{"p":4.05,"c":52,"v":44},{"p":4.15,"c":52,"v":42},{"p":4.25,"c":52,"v":40},{"p":4.35,"c":52,"v":38},{"p":4.45,"c":52,"v":37},{"p":4.55,"c":52,"v":35},{"p":4.65,"c":52,"v":33},{"p":4.75,"c":52,"v":31},{"p":4.85,"c":52,"v":29},{"p":4.95,"c":52,"v":27},
      {"p":1.05,"c":56,"v":93},{"p":1.15,"c":56,"v":91},{"p":1.25,"c":56,"v":90},{"p":1.35,"c":56,"v":88},{"p":1.45,"c":56,"v":87},{"p":1.55,"c":56,"v":85},{"p":1.65,"c":56,"v":84},{"p":1.75,"c":56,"v":82},{"p":1.85,"c":56,"v":81},{"p":1.95,"c":56,"v":79},{"p":2.05,"c":56,"v":77},{"p":2.15,"c":56,"v":76},{"p":2.25,"c":56,"v":74},{"p":2.35,"c":56,"v":73},{"p":2.45,"c":56,"v":71},{"p":2.55,"c":56,"v":69},{"p":2.65,"c":56,"v":68},{"p":2.75,"c":56,"v":66},{"p":2.85,"c":56,"v":64},{"p":2.95,"c":56,"v":63},{"p":3.05,"c":56,"v":61},{"p":3.15,"c":56,"v":59},{"p":3.25,"c":56,"v":57},{"p":3.35,"c":56,"v":56},{"p":3.45,"c":56,"v":54},{"p":3.55,"c":56,"v":52},{"p":3.65,"c":56,"v":50},{"p":3.75,"c":56,"v":49},{"p":3.85,"c":56,"v":47},{"p":3.95,"c":56,"v":45},{"p":4.05,"c":56,"v":43},{"p":4.15,"c":56,"v":41},{"p":4.25,"c":56,"v":40},{"p":4.35,"c":56,"v":38},{"p":4.45,"c":56,"v":36},{"p":4.55,"c":56,"v":34},{"p":4.65,"c":56,"v":32},{"p":4.75,"c":56,"v":30},{"p":4.85,"c":56,"v":28},{"p":4.95,"c":56,"v":26},
      {"p":1.05,"c":60,"v":90},{"p":1.15,"c":60,"v":88},{"p":1.25,"c":60,"v":87},{"p":1.35,"c":60,"v":85},{"p":1.45,"c":60,"v":84},{"p":1.55,"c":60,"v":82},{"p":1.65,"c":60,"v":81},{"p":1.75,"c":60,"v":79},{"p":1.85,"c":60,"v":78},{"p":1.95,"c":60,"v":76},{"p":2.05,"c":60,"v":75},{"p":2.15,"c":60,"v":73},{"p":2.25,"c":60,"v":72},{"p":2.35,"c":60,"v":70},{"p":2.45,"c":60,"v":69},{"p":2.55,"c":60,"v":67},{"p":2.65,"c":60,"v":66},{"p":2.75,"c":60,"v":64},{"p":2.85,"c":60,"v":62},{"p":2.95,"c":60,"v":61},{"p":3.05,"c":60,"v":59},{"p":3.15,"c":60,"v":58},{"p":3.25,"c":60,"v":56},{"p":3.35,"c":60,"v":54},{"p":3.45,"c":60,"v":53},{"p":3.55,"c":60,"v":51},{"p":3.65,"c":60,"v":49},{"p":3.75,"c":60,"v":48},{"p":3.85,"c":60,"v":46},{"p":3.95,"c":60,"v":44},{"p":4.05,"c":60,"v":42},{"p":4.15,"c":60,"v":41},{"p":4.25,"c":60,"v":39},{"p":4.35,"c":60,"v":37},{"p":4.45,"c":60,"v":35},{"p":4.55,"c":60,"v":34},{"p":4.65,"c":60,"v":32},{"p":4.75,"c":60,"v":30},{"p":4.85,"c":60,"v":28},{"p":4.95,"c":60,"v":26},
      {"p":1.05,"c":64,"v":86},{"p":1.15,"c":64,"v":85},{"p":1.25,"c":64,"v":84},{"p":1.35,"c":64,"v":82},{"p":1.45,"c":64,"v":81},{"p":1.55,"c":64,"v":79},{"p":1.65,"c":64,"v":78},{"p":1.75,"c":64,"v":77},{"p":1.85,"c":64,"v":75},{"p":1.95,"c":64,"v":74},{"p":2.05,"c":64,"v":72},{"p":2.15,"c":64,"v":71},{"p":2.25,"c":64,"v":70},{"p":2.35,"c":64,"v":68},{"p":2.45,"c":64,"v":67},{"p":2.55,"c":64,"v":65},{"p":2.65,"c":64,"v":64},{"p":2.75,"c":64,"v":62},{"p":2.85,"c":64,"v":61},{"p":2.95,"c":64,"v":59},{"p":3.05,"c":64,"v":58},{"p":3.15,"c":64,"v":56},{"p":3.25,"c":64,"v":54},{"p":3.35,"c":64,"v":53},{"p":3.45,"c":64,"v":51},{"p":3.55,"c":64,"v":50},{"p":3.65,"c":64,"v":48},{"p":3.75,"c":64,"v":47},{"p":3.85,"c":64,"v":45},{"p":3.95,"c":64,"v":43},{"p":4.05,"c":64,"v":42},{"p":4.15,"c":64,"v":40},{"p":4.25,"c":64,"v":38},{"p":4.35,"c":64,"v":37},{"p":4.45,"c":64,"v":35},{"p":4.55,"c":64,"v":33},{"p":4.65,"c":64,"v":32},{"p":4.75,"c":64,"v":30},{"p":4.85,"c":64,"v":28},{"p":4.95,"c":64,"v":26},
      {"p":1.05,"c":68,"v":83},{"p":1.15,"c":68,"v":82},{"p":1.25,"c":68,"v":81},{"p":1.35,"c":68,"v":79},{"p":1.45,"c":68,"v":78},{"p":1.55,"c":68,"v":77},{"p":1.65,"c":68,"v":75},{"p":1.75,"c":68,"v":74},{"p":1.85,"c":68,"v":73},{"p":1.95,"c":68,"v":71},{"p":2.05,"c":68,"v":70},{"p":2.15,"c":68,"v":69},{"p":2.25,"c":68,"v":67},{"p":2.35,"c":68,"v":66},{"p":2.45,"c":68,"v":65},{"p":2.55,"c":68,"v":63},{"p":2.65,"c":68,"v":62},{"p":2.75,"c":68,"v":60},{"p":2.85,"c":68,"v":59},{"p":2.95,"c":68,"v":58},{"p":3.05,"c":68,"v":56},{"p":3.15,"c":68,"v":55},{"p":3.25,"c":68,"v":53},{"p":3.35,"c":68,"v":52},{"p":3.45,"c":68,"v":50},{"p":3.55,"c":68,"v":49},{"p":3.65,"c":68,"v":47},{"p":3.75,"c":68,"v":46},{"p":3.85,"c":68,"v":44},{"p":3.95,"c":68,"v":43},{"p":4.05,"c":68,"v":41},{"p":4.15,"c":68,"v":39},{"p":4.25,"c":68,"v":38},{"p":4.35,"c":68,"v":36},{"p":4.45,"c":68,"v":35},{"p":4.55,"c":68,"v":33},{"p":4.65,"c":68,"v":31},{"p":4.75,"c":68,"v":30},{"p":4.85,"c":68,"v":28},{"p":4.95,"c":68,"v":26},
      {"p":1.05,"c":72,"v":80},{"p":1.15,"c":72,"v":79},{"p":1.25,"c":72,"v":78},{"p":1.35,"c":72,"v":77},{"p":1.45,"c":72,"v":75},{"p":1.55,"c":72,"v":74},{"p":1.65,"c":72,"v":73},{"p":1.75,"c":72,"v":72},{"p":1.85,"c":72,"v":70},{"p":1.95,"c":72,"v":69},{"p":2.05,"c":72,"v":68},{"p":2.15,"c":72,"v":67},{"p":2.25,"c":72,"v":65},{"p":2.35,"c":72,"v":64},{"p":2.45,"c":72,"v":63},{"p":2.55,"c":72,"v":61},{"p":2.65,"c":72,"v":60},{"p":2.75,"c":72,"v":59},{"p":2.85,"c":72,"v":57},{"p":2.95,"c":72,"v":56},{"p":3.05,"c":72,"v":55},{"p":3.15,"c":72,"v":53},{"p":3.25,"c":72,"v":52},{"p":3.35,"c":72,"v":51},{"p":3.45,"c":72,"v":49},{"p":3.55,"c":72,"v":48},{"p":3.65,"c":72,"v":46},{"p":3.75,"c":72,"v":45},{"p":3.85,"c":72,"v":43},{"p":3.95,"c":72,"v":42},{"p":4.05,"c":72,"v":40},{"p":4.15,"c":72,"v":39},{"p":4.25,"c":72,"v":37},{"p":4.35,"c":72,"v":36},{"p":4.45,"c":72,"v":34},{"p":4.55,"c":72,"v":33},{"p":4.65,"c":72,"v":31},{"p":4.75,"c":72,"v":30},{"p":4.85,"c":72,"v":28},{"p":4.95,"c":72,"v":27},
      {"p":1.05,"c":76,"v":77},{"p":1.15,"c":76,"v":76},{"p":1.25,"c":76,"v":75},{"p":1.35,"c":76,"v":74},{"p":1.45,"c":76,"v":73},{"p":1.55,"c":76,"v":72},{"p":1.65,"c":76,"v":71},{"p":1.75,"c":76,"v":69},{"p":1.85,"c":76,"v":68},{"p":1.95,"c":76,"v":67},{"p":2.05,"c":76,"v":66},{"p":2.15,"c":76,"v":65},{"p":2.25,"c":76,"v":63},{"p":2.35,"c":76,"v":62},{"p":2.45,"c":76,"v":61},{"p":2.55,"c":76,"v":60},{"p":2.65,"c":76,"v":59},{"p":2.75,"c":76,"v":57},{"p":2.85,"c":76,"v":56},{"p":2.95,"c":76,"v":55},{"p":3.05,"c":76,"v":54},{"p":3.15,"c":76,"v":52},{"p":3.25,"c":76,"v":51},{"p":3.35,"c":76,"v":50},{"p":3.45,"c":76,"v":48},{"p":3.55,"c":76,"v":47},{"p":3.65,"c":76,"v":46},{"p":3.75,"c":76,"v":44},{"p":3.85,"c":76,"v":43},{"p":3.95,"c":76,"v":41},{"p":4.05,"c":76,"v":40},{"p":4.15,"c":76,"v":39},{"p":4.25,"c":76,"v":37},{"p":4.35,"c":76,"v":36},{"p":4.45,"c":76,"v":34},{"p":4.55,"c":76,"v":33},{"p":4.65,"c":76,"v":31},{"p":4.75,"c":76,"v":30},{"p":4.85,"c":76,"v":29},{"p":4.95,"c":76,"v":27},
      {"p":1.05,"c":80,"v":74},{"p":1.15,"c":80,"v":73},{"p":1.25,"c":80,"v":72},{"p":1.35,"c":80,"v":71},{"p":1.45,"c":80,"v":70},{"p":1.55,"c":80,"v":69},{"p":1.65,"c":80,"v":68},{"p":1.75,"c":80,"v":67},{"p":1.85,"c":80,"v":66},{"p":1.95,"c":80,"v":65},{"p":2.05,"c":80,"v":64},{"p":2.15,"c":80,"v":63},{"p":2.25,"c":80,"v":62},{"p":2.35,"c":80,"v":61},{"p":2.45,"c":80,"v":59},{"p":2.55,"c":80,"v":58},{"p":2.65,"c":80,"v":57},{"p":2.75,"c":80,"v":56},{"p":2.85,"c":80,"v":55},{"p":2.95,"c":80,"v":54},{"p":3.05,"c":80,"v":52},{"p":3.15,"c":80,"v":51},{"p":3.25,"c":80,"v":50},{"p":3.35,"c":80,"v":49},{"p":3.45,"c":80,"v":47},{"p":3.55,"c":80,"v":46},{"p":3.65,"c":80,"v":45},{"p":3.75,"c":80,"v":44},{"p":3.85,"c":80,"v":42},{"p":3.95,"c":80,"v":41},{"p":4.05,"c":80,"v":40},{"p":4.15,"c":80,"v":38},{"p":4.25,"c":80,"v":37},{"p":4.35,"c":80,"v":36},{"p":4.45,"c":80,"v":34},{"p":4.55,"c":80,"v":33},{"p":4.65,"c":80,"v":32},{"p":4.75,"c":80,"v":30},{"p":4.85,"c":80,"v":29},{"p":4.95,"c":80,"v":27},
      {"p":1.05,"c":84,"v":72},{"p":1.15,"c":84,"v":71},{"p":1.25,"c":84,"v":70},{"p":1.35,"c":84,"v":69},{"p":1.45,"c":84,"v":68},{"p":1.55,"c":84,"v":67},{"p":1.65,"c":84,"v":66},{"p":1.75,"c":84,"v":65},{"p":1.85,"c":84,"v":64},{"p":1.95,"c":84,"v":63},{"p":2.05,"c":84,"v":62},{"p":2.15,"c":84,"v":61},{"p":2.25,"c":84,"v":60},{"p":2.35,"c":84,"v":59},{"p":2.45,"c":84,"v":58},{"p":2.55,"c":84,"v":57},{"p":2.65,"c":84,"v":56},{"p":2.75,"c":84,"v":55},{"p":2.85,"c":84,"v":54},{"p":2.95,"c":84,"v":53},{"p":3.05,"c":84,"v":51},{"p":3.15,"c":84,"v":50},{"p":3.25,"c":84,"v":49},{"p":3.35,"c":84,"v":48},{"p":3.45,"c":84,"v":47},{"p":3.55,"c":84,"v":46},{"p":3.65,"c":84,"v":44},{"p":3.75,"c":84,"v":43},{"p":3.85,"c":84,"v":42},{"p":3.95,"c":84,"v":41},{"p":4.05,"c":84,"v":40},{"p":4.15,"c":84,"v":38},{"p":4.25,"c":84,"v":37},{"p":4.35,"c":84,"v":36},{"p":4.45,"c":84,"v":35},{"p":4.55,"c":84,"v":33},{"p":4.65,"c":84,"v":32},{"p":4.75,"c":84,"v":31},{"p":4.85,"c":84,"v":29},{"p":4.95,"c":84,"v":28},
      {"p":1.05,"c":88,"v":69},{"p":1.15,"c":88,"v":68},{"p":1.25,"c":88,"v":67},{"p":1.35,"c":88,"v":67},{"p":1.45,"c":88,"v":66},{"p":1.55,"c":88,"v":65},{"p":1.65,"c":88,"v":64},{"p":1.75,"c":88,"v":63},{"p":1.85,"c":88,"v":62},{"p":1.95,"c":88,"v":61},{"p":2.05,"c":88,"v":60},{"p":2.15,"c":88,"v":59},{"p":2.25,"c":88,"v":58},{"p":2.35,"c":88,"v":58},{"p":2.45,"c":88,"v":57},{"p":2.55,"c":88,"v":56},{"p":2.65,"c":88,"v":55},{"p":2.75,"c":88,"v":54},{"p":2.85,"c":88,"v":53},{"p":2.95,"c":88,"v":52},{"p":3.05,"c":88,"v":51},{"p":3.15,"c":88,"v":49},{"p":3.25,"c":88,"v":48},{"p":3.35,"c":88,"v":47},{"p":3.45,"c":88,"v":46},{"p":3.55,"c":88,"v":45},{"p":3.65,"c":88,"v":44},{"p":3.75,"c":88,"v":43},{"p":3.85,"c":88,"v":42},{"p":3.95,"c":88,"v":41},{"p":4.05,"c":88,"v":40},{"p":4.15,"c":88,"v":38},{"p":4.25,"c":88,"v":37},{"p":4.35,"c":88,"v":36},{"p":4.45,"c":88,"v":35},{"p":4.55,"c":88,"v":34},{"p":4.65,"c":88,"v":32},{"p":4.75,"c":88,"v":31},{"p":4.85,"c":88,"v":30},{"p":4.95,"c":88,"v":29},
      {"p":1.05,"c":92,"v":67},{"p":1.15,"c":92,"v":66},{"p":1.25,"c":92,"v":65},{"p":1.35,"c":92,"v":64},{"p":1.45,"c":92,"v":64},{"p":1.55,"c":92,"v":63},{"p":1.65,"c":92,"v":62},{"p":1.75,"c":92,"v":61},{"p":1.85,"c":92,"v":60},{"p":1.95,"c":92,"v":60},{"p":2.05,"c":92,"v":59},{"p":2.15,"c":92,"v":58},{"p":2.25,"c":92,"v":57},{"p":2.35,"c":92,"v":56},{"p":2.45,"c":92,"v":55},{"p":2.55,"c":92,"v":54},{"p":2.65,"c":92,"v":53},{"p":2.75,"c":92,"v":53},{"p":2.85,"c":92,"v":52},{"p":2.95,"c":92,"v":51},{"p":3.05,"c":92,"v":50},{"p":3.15,"c":92,"v":49},{"p":3.25,"c":92,"v":48},{"p":3.35,"c":92,"v":47},{"p":3.45,"c":92,"v":46},{"p":3.55,"c":92,"v":45},{"p":3.65,"c":92,"v":44},{"p":3.75,"c":92,"v":43},{"p":3.85,"c":92,"v":42},{"p":3.95,"c":92,"v":41},{"p":4.05,"c":92,"v":40},{"p":4.15,"c":92,"v":39},{"p":4.25,"c":92,"v":37},{"p":4.35,"c":92,"v":36},{"p":4.45,"c":92,"v":35},{"p":4.55,"c":92,"v":34},{"p":4.65,"c":92,"v":33},{"p":4.75,"c":92,"v":32},{"p":4.85,"c":92,"v":31},{"p":4.95,"c":92,"v":30},
      {"p":1.05,"c":96,"v":64},{"p":1.15,"c":96,"v":64},{"p":1.25,"c":96,"v":63},{"p":1.35,"c":96,"v":62},{"p":1.45,"c":96,"v":62},{"p":1.55,"c":96,"v":61},{"p":1.65,"c":96,"v":60},{"p":1.75,"c":96,"v":59},{"p":1.85,"c":96,"v":59},{"p":1.95,"c":96,"v":58},{"p":2.05,"c":96,"v":57},{"p":2.15,"c":96,"v":56},{"p":2.25,"c":96,"v":56},{"p":2.35,"c":96,"v":55},{"p":2.45,"c":96,"v":54},{"p":2.55,"c":96,"v":53},{"p":2.65,"c":96,"v":52},{"p":2.75,"c":96,"v":52},{"p":2.85,"c":96,"v":51},{"p":2.95,"c":96,"v":50},{"p":3.05,"c":96,"v":49},{"p":3.15,"c":96,"v":48},{"p":3.25,"c":96,"v":47},{"p":3.35,"c":96,"v":46},{"p":3.45,"c":96,"v":46},{"p":3.55,"c":96,"v":45},{"p":3.65,"c":96,"v":44},{"p":3.75,"c":96,"v":43},{"p":3.85,"c":96,"v":42},{"p":3.95,"c":96,"v":41},{"p":4.05,"c":96,"v":40},{"p":4.15,"c":96,"v":39},{"p":4.25,"c":96,"v":38},{"p":4.35,"c":96,"v":37},{"p":4.45,"c":96,"v":36},{"p":4.55,"c":96,"v":35},{"p":4.65,"c":96,"v":34},{"p":4.75,"c":96,"v":33},{"p":4.85,"c":96,"v":32},{"p":4.95,"c":96,"v":31},
      {"p":1.05,"c":100,"v":62},{"p":1.15,"c":100,"v":62},{"p":1.25,"c":100,"v":61},{"p":1.35,"c":100,"v":60},{"p":1.45,"c":100,"v":60},{"p":1.55,"c":100,"v":59},{"p":1.65,"c":100,"v":59},{"p":1.75,"c":100,"v":58},{"p":1.85,"c":100,"v":57},{"p":1.95,"c":100,"v":57},{"p":2.05,"c":100,"v":56},{"p":2.15,"c":100,"v":55},{"p":2.25,"c":100,"v":55},{"p":2.35,"c":100,"v":54},{"p":2.45,"c":100,"v":53},{"p":2.55,"c":100,"v":52},{"p":2.65,"c":100,"v":52},{"p":2.75,"c":100,"v":51},{"p":2.85,"c":100,"v":50},{"p":2.95,"c":100,"v":49},{"p":3.05,"c":100,"v":49},{"p":3.15,"c":100,"v":48},{"p":3.25,"c":100,"v":47},{"p":3.35,"c":100,"v":46},{"p":3.45,"c":100,"v":45},{"p":3.55,"c":100,"v":44},{"p":3.65,"c":100,"v":44},{"p":3.75,"c":100,"v":43},{"p":3.85,"c":100,"v":42},{"p":3.95,"c":100,"v":41},{"p":4.05,"c":100,"v":40},{"p":4.15,"c":100,"v":39},{"p":4.25,"c":100,"v":38},{"p":4.35,"c":100,"v":37},{"p":4.45,"c":100,"v":36},{"p":4.55,"c":100,"v":35},{"p":4.65,"c":100,"v":35},{"p":4.75,"c":100,"v":34},{"p":4.85,"c":100,"v":33},{"p":4.95,"c":100,"v":32}
    ],
    "contours": [
      {"lvl":40,"p":4.03,"c":100},{"lvl":40,"p":4.0,"c":93},{"lvl":40,"p":4.0,"c":86.5},{"lvl":40,"p":4.02,"c":76.4},{"lvl":40,"p":4.09,"c":68.4},{"lvl":40,"p":4.175,"c":60.3},{"lvl":40,"p":4.28,"c":54},{"lvl":40,"p":4.39,"c":45},{"lvl":40,"p":4.51,"c":36},{"lvl":40,"p":4.62,"c":28},{"lvl":40,"p":4.72,"c":20},
      {"lvl":60,"p":1.31,"c":100},{"lvl":60,"p":1.67,"c":93.2},{"lvl":60,"p":1.92,"c":88.8},{"lvl":60,"p":2.175,"c":83.8},{"lvl":60,"p":2.43,"c":77.1},{"lvl":60,"p":2.63,"c":71.1},{"lvl":60,"p":2.8,"c":66.5},{"lvl":60,"p":2.9,"c":63},{"lvl":60,"p":2.98,"c":60.3},{"lvl":60,"p":3.25,"c":50.5},{"lvl":60,"p":3.49,"c":40.5},{"lvl":60,"p":3.71,"c":30.5},{"lvl":60,"p":3.93,"c":20},
      {"lvl":80,"p":1.0,"c":72.7},{"lvl":80,"p":1.29,"c":69},{"lvl":80,"p":1.55,"c":63.7},{"lvl":80,"p":1.75,"c":59},{"lvl":80,"p":2.02,"c":52},{"lvl":80,"p":2.34,"c":45.3},{"lvl":80,"p":2.68,"c":34.2},{"lvl":80,"p":3.05,"c":22.5},{"lvl":80,"p":3.12,"c":20},
      {"lvl":100,"p":1.0,"c":49.3},{"lvl":100,"p":1.29,"c":44.3},{"lvl":100,"p":1.55,"c":38.6},{"lvl":100,"p":1.81,"c":32.7},{"lvl":100,"p":2.05,"c":26.2},{"lvl":100,"p":2.3,"c":20},
      {"lvl":120,"p":1.0,"c":29.5},{"lvl":120,"p":1.22,"c":25.3},{"lvl":120,"p":1.36,"c":22.3},{"lvl":120,"p":1.46,"c":20}
    ],
    "labels": [
      {"p":2.804,"c":65.9,"t":"60"},
      {"p":4.23,"c":57.3,"t":"40"},
      {"p":2.181,"c":48.6,"t":"80"},
      {"p":1.619,"c":35.4,"t":"100"},
      {"p":1.219,"c":25.2,"t":"120"}
    ],
    "runs": [
      {"p":3,"c":100,"n":1},{"p":3,"c":60,"n":5},{"p":1,"c":60,"n":1},{"p":5,"c":60,"n":1},{"p":3,"c":20,"n":1}
    ],
    "nextPanel": [
      {"seg":"a","k":0,"p":2.804,"c":-0.3},{"seg":"a","k":1,"p":3.166,"c":2.1},{"seg":"a","k":2,"p":3.445,"c":-0.3},
      {"seg":"b","k":0,"p":3.166,"c":2.1},{"seg":"b","k":1,"p":3.166,"c":-0.3}
    ]
  },
  "layer": [
    {
      "data": {"name": "grid"},
      "mark": {"type": "rect", "strokeWidth": 0.6, "clip": true},
      "encoding": {
        "x": {"field": "p", "type": "quantitative", "bin": {"step": 0.1, "extent": [1, 5], "nice": false},
              "scale": {"domain": [1, 5], "nice": false, "zero": false},
              "axis": {"values": [1, 2, 3, 4, 5], "labelExpr": "format(datum.value, 'd')", "title": "pH", "labelPadding": 6, "titlePadding": 5}},
        "y": {"field": "c", "type": "quantitative", "bin": {"step": 2, "extent": [19, 101], "nice": false},
              "scale": {"domain": [20, 100], "nice": false, "zero": false},
              "axis": {"values": [20, 40, 60, 80, 100], "labelExpr": "format(datum.value, 'd')", "title": "Concentration", "labelPadding": 6, "titlePadding": 13}},
        "fill": {"field": "v", "type": "quantitative",
                 "scale": {"domain": [21, 26, 31, 35, 38, 41, 44.5, 48, 53, 60, 64, 68, 71, 74.5, 77.5, 82, 86, 90, 95, 100],
                           "range": ["#2C3E91", "#2C3E91", "#31529F", "#3A6FBA", "#3C97D6", "#36BDEC", "#6BCBD8", "#72C7A8", "#6EC163", "#6ABD45", "#70BE44", "#86C440", "#A5CE39", "#CFDD2C", "#F4EA1F", "#F8B71B", "#F47B20", "#EA2D27", "#E8202A", "#E8202A"],
                           "clamp": true, "interpolate": "rgb"},
                 "legend": {"type": "gradient", "orient": "none", "legendX": -4, "legendY": 473, "direction": "horizontal", "title": null,
                            "gradientLength": 44, "gradientThickness": 26, "gradientStrokeWidth": 0,
                            "values": [26, 95], "labelOverlap": false, "labelOffset": -22.5,
                            "labelFont": "Liberation Serif", "labelFontSize": 19, "labelColor": "#231F20",
                            "labelExpr": "datum.value < 50 ? '26\u00a0\u00a0\u00a0\u00a0\u00a0\u00a0\u00a0\u00a0\u00a0\u00a0\u200b' : '\u200b\u00a0\u00a0\u00a0\u00a0\u00a0\u00a0\u00a0\u00a0\u00a0\u00a095'"}},
        "stroke": {"field": "v", "type": "quantitative",
                   "scale": {"domain": [26, 31, 35, 38, 41, 44.5, 48, 53, 60, 64, 68, 71, 74.5, 77.5, 82, 86, 90, 95.01],
                             "range": ["#2C3E91", "#31529F", "#3A6FBA", "#3C97D6", "#36BDEC", "#6BCBD8", "#72C7A8", "#6EC163", "#6ABD45", "#70BE44", "#86C440", "#A5CE39", "#CFDD2C", "#F4EA1F", "#F8B71B", "#F47B20", "#EA2D27", "#E8202A"],
                             "clamp": true, "interpolate": "rgb"},
                   "legend": null}
      }
    },
    {
      "data": {"name": "contours"},
      "mark": {"type": "line", "color": "#1B1B1B", "strokeWidth": 1.1, "interpolate": "catmull-rom"},
      "encoding": {
        "x": {"field": "p", "type": "quantitative"},
        "y": {"field": "c", "type": "quantitative"},
        "detail": {"field": "lvl", "type": "nominal"},
        "order": {"field": "c", "type": "quantitative"}
      }
    },
    {
      "data": {"name": "labels"},
      "transform": [{"filter": "length(datum.t) == 2"}],
      "mark": {"type": "point", "shape": "M-1.5,-1H1.5V1H-1.5Z", "size": 841, "filled": true, "fill": "white", "stroke": "#1B1B1B", "strokeWidth": 1, "opacity": 1},
      "encoding": {"x": {"field": "p", "type": "quantitative"}, "y": {"field": "c", "type": "quantitative"}}
    },
    {
      "data": {"name": "labels"},
      "transform": [{"filter": "length(datum.t) == 3"}],
      "mark": {"type": "point", "shape": "M-1.8,-0.95H1.8V0.95H-1.8Z", "size": 841, "filled": true, "fill": "white", "stroke": "#1B1B1B", "strokeWidth": 1, "opacity": 1},
      "encoding": {"x": {"field": "p", "type": "quantitative"}, "y": {"field": "c", "type": "quantitative"}}
    },
    {
      "data": {"name": "labels"},
      "mark": {"type": "text", "font": "Liberation Serif", "fontSize": 19, "color": "#231F20", "align": "center", "baseline": "middle", "dy": 1},
      "encoding": {"x": {"field": "p", "type": "quantitative"}, "y": {"field": "c", "type": "quantitative"}, "text": {"field": "t"}}
    },
    {
      "data": {"name": "runs"},
      "mark": {"type": "point", "shape": "M-1.25,0A1.25,1 0 1,0 1.25,0A1.25,1 0 1,0 -1.25,0Z", "size": 81, "filled": true, "fill": "#B5161E", "stroke": "#5A0B0E", "strokeWidth": 1, "opacity": 1},
      "encoding": {"x": {"field": "p", "type": "quantitative"}, "y": {"field": "c", "type": "quantitative"}}
    },
    {
      "data": {"name": "runs"},
      "transform": [{"filter": "datum.n > 1"}],
      "mark": {"type": "text", "font": "Liberation Sans", "fontSize": 7, "color": "#2F6B52", "align": "right", "baseline": "middle", "dx": -8},
      "encoding": {"x": {"field": "p", "type": "quantitative"}, "y": {"field": "c", "type": "quantitative"}, "text": {"field": "n"}}
    },
    {
      "data": {"name": "nextPanel"},
      "mark": {"type": "line", "color": "#231F20", "strokeWidth": 1.2},
      "encoding": {
        "x": {"field": "p", "type": "quantitative"},
        "y": {"field": "c", "type": "quantitative"},
        "detail": {"field": "seg", "type": "nominal"},
        "order": {"field": "k", "type": "quantitative"}
      }
    }
  ]
}
